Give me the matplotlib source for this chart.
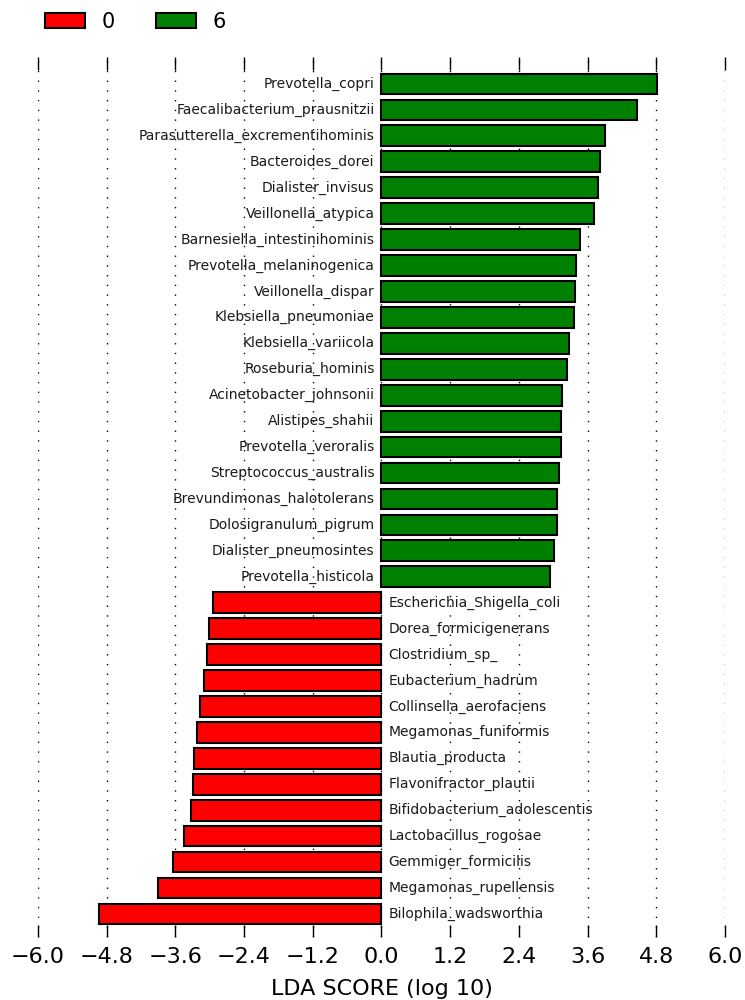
import matplotlib
matplotlib.use('agg')
import matplotlib.pyplot as plt
import numpy as np

# features for class "6" (green), top to bottom
green_names = ["Prevotella_copri", "Faecalibacterium_prausnitzii", "Parasutterella_excrementihominis",
               "Bacteroides_dorei", "Dialister_invisus", "Veillonella_atypica",
               "Barnesiella_intestinihominis", "Prevotella_melaninogenica", "Veillonella_dispar",
               "Klebsiella_pneumoniae", "Klebsiella_variicola", "Roseburia_hominis",
               "Acinetobacter_johnsonii", "Alistipes_shahii", "Prevotella_veroralis",
               "Streptococcus_australis", "Brevundimonas_halotolerans", "Dolosigranulum_pigrum",
               "Dialister_pneumosintes", "Prevotella_histicola"]
green_lda = [4.82, 4.47, 3.90, 3.81, 3.78, 3.71, 3.47, 3.40, 3.38, 3.37,
             3.27, 3.24, 3.16, 3.14, 3.13, 3.11, 3.07, 3.06, 3.01, 2.95]

# features for class "0" (red), top to bottom
red_names = ["Escherichia_Shigella_coli", "Dorea_formicigenerans", "Clostridium_sp_",
             "Eubacterium_hadrum", "Collinsella_aerofaciens", "Megamonas_funiformis",
             "Blautia_producta", "Flavonifractor_plautii", "Bifidobacterium_adolescentis",
             "Lactobacillus_rogosae", "Gemmiger_formicilis", "Megamonas_rupellensis",
             "Bilophila_wadsworthia"]
red_lda = [2.94, 3.02, 3.05, 3.10, 3.17, 3.23, 3.28, 3.30, 3.32, 3.45, 3.64, 3.91, 4.94]

tick_vals = [-6.0, -4.8, -3.6, -2.4, -1.2, 0.0, 1.2, 2.4, 3.6, 4.8, 6.0]

names = green_names + red_names
scores = list(green_lda) + [-v for v in red_lda]
colors = ["green"] * len(green_names) + ["red"] * len(red_names)
n = len(names)
ypos = np.arange(n)[::-1]

fig = plt.figure(figsize=(7.45, 10), dpi=100)
ax = fig.add_axes([0.051, 0.063, 0.922, 0.880])

ax.barh(ypos, scores, height=0.8, color=colors, edgecolor="black", linewidth=1.5, zorder=2)

# feature names sit on the opposite side of zero
for y, s, name in zip(ypos, scores, names):
    if s > 0:
        ax.text(-0.12, y, name, ha="right", va="center", fontsize=10, color="#1a1a1a", zorder=3)
    else:
        ax.text(0.12, y, name, ha="left", va="center", fontsize=10, color="#1a1a1a", zorder=3)

ax.set_xlim(-6.0, 6.0)
ax.set_ylim(-0.89, n - 1 + 1.04)
ax.set_xticks(tick_vals)
ax.set_xticklabels(["%.1f" % v if v >= 0 else "\u2212%.1f" % abs(v) for v in tick_vals], fontsize=16)
ax.set_yticks([])
ax.tick_params(axis="x", direction="in", top=True, bottom=True, length=9, width=1, pad=7)
for sp in ax.spines.values():
    sp.set_visible(False)
ax.xaxis.grid(True, linestyle=(0, (1, 6)), color="black", linewidth=1, zorder=0)
ax.set_axisbelow(True)
ax.set_xlabel("LDA SCORE (log 10)", fontsize=16, labelpad=9)

h_red = plt.Rectangle((0, 0), 1, 1, facecolor="red", edgecolor="black", linewidth=1.5)
h_green = plt.Rectangle((0, 0), 1, 1, facecolor="green", edgecolor="black", linewidth=1.5)
fig.legend([h_red, h_green], ["0", "6"], loc="upper left", bbox_to_anchor=(0.06, 0.988),
           ncol=2, frameon=False, fontsize=15, handlelength=1.92, handleheight=0.72,
           handletextpad=0.8, columnspacing=2.0, borderpad=0, borderaxespad=0)

plt.savefig("out.png", dpi=100)
